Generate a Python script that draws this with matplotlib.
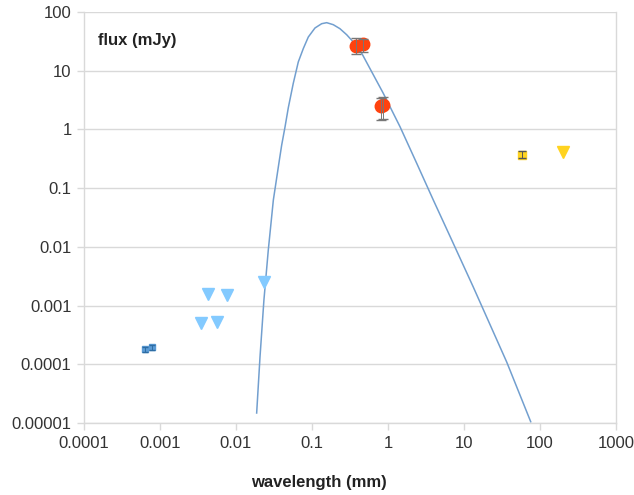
import matplotlib
matplotlib.use("Agg")
import matplotlib.pyplot as plt
from matplotlib.ticker import FixedLocator, FixedFormatter, NullLocator

plt.rcParams['font.family'] = ['Liberation Sans', 'DejaVu Sans']

# ---- data ----
# model curve
model_wl = [0.0187, 0.0207, 0.0233, 0.0266, 0.0310, 0.0372, 0.0399, 0.0442,
            0.0488, 0.0567, 0.066, 0.0769, 0.0894, 0.1094, 0.134, 0.156,
            0.1905, 0.233, 0.286, 0.333, 0.428, 0.867, 1.44, 2.39, 3.94,
            6.89, 13.2, 36.5, 75.5]
model_flux = [1.48e-5, 1.34e-4, 1.24e-3, 8.83e-3, 0.0627, 0.30, 0.54, 1.11,
              2.35, 6.10, 14.1, 23.9, 37.5, 53.4, 63.2, 65.8,
              60.8, 52.0, 41.0, 33.0, 22.5, 4.12, 1.11, 0.264, 0.063,
              0.0131, 0.00209, 1.09e-4, 1.05e-5]

# optical/NIR detections (blue squares)
opt_wl = [0.000635, 0.000778]
opt_flux = [0.000179, 0.000194]
opt_err = [0.000017, 0.000017]

# upper limits (light-blue triangles)
ul_wl = [0.00345, 0.0043, 0.00554, 0.00764, 0.0232]
ul_flux = [0.00051, 0.00158, 0.00053, 0.00150, 0.00248]

# submm detections (red circles)
sub_wl = [0.38, 0.47, 0.80, 0.87]
sub_flux = [26.0, 28.0, 2.5, 2.6]
sub_err_lo = [7.0, 7.0, 1.05, 1.1]
sub_err_hi = [10.0, 7.0, 0.95, 0.9]

# radio (yellow)
radio_wl = [57.5]
radio_flux = [0.372]
radio_err = [0.05]
radio_ul_wl = [203.0]
radio_ul_flux = [0.42]

x_ticks = [1e-4, 1e-3, 1e-2, 1e-1, 1, 10, 100, 1000]
x_labels = ["0.0001", "0.001", "0.01", "0.1", "1", "10", "100", "1000"]
y_ticks = [1e-5, 1e-4, 1e-3, 1e-2, 1e-1, 1, 10, 100]
y_labels = ["0.00001", "0.0001", "0.001", "0.01", "0.1", "1", "10", "100"]

# ---- figure ----
W, H = 634, 495
fig = plt.figure(figsize=(W / 100, H / 100), dpi=100)
ax = fig.add_axes([84 / W, 1 - 423 / H, (616 - 84) / W, (423 - 12) / H])
ax.set_xscale('log')
ax.set_yscale('log')
ax.set_xlim(1e-4, 1000)
ax.set_ylim(1e-5, 100)

grid_c = '#d9d9d9'
ax.yaxis.set_major_locator(FixedLocator(y_ticks))
ax.yaxis.set_major_formatter(FixedFormatter(y_labels))
ax.xaxis.set_major_locator(FixedLocator(x_ticks))
ax.xaxis.set_major_formatter(FixedFormatter(x_labels))
ax.xaxis.set_minor_locator(NullLocator())
ax.yaxis.set_minor_locator(NullLocator())
ax.grid(axis='y', color=grid_c, linewidth=1)
ax.set_axisbelow(True)
for s in ['left', 'bottom', 'right']:
    ax.spines[s].set_color(grid_c)
    ax.spines[s].set_linewidth(1)
ax.spines['top'].set_visible(False)
ax.tick_params(axis='both', which='major', length=5, width=1, color=grid_c,
               labelsize=12, labelcolor='#333333', pad=4)

# model curve
ax.plot(model_wl, model_flux, color='#729fcf', linewidth=1.1, zorder=2,
        solid_joinstyle='round')

# blue squares
ax.plot(opt_wl, opt_flux, 's', color='#5b9bd5', markersize=5, zorder=3)
ax.errorbar(opt_wl, opt_flux, yerr=opt_err, fmt='none', ecolor='#2e6da4',
            elinewidth=0.7, capsize=2.5, zorder=4)
# triangles
ax.plot(ul_wl, ul_flux, 'v', color='#83caff', markersize=8, linestyle='none', zorder=3)
# red
ax.plot(sub_wl, sub_flux, 'o', color='#ff420e', markersize=9, zorder=3)
ax.errorbar(sub_wl, sub_flux, yerr=[sub_err_lo, sub_err_hi], fmt='none',
            ecolor='#777777', elinewidth=0.7, capsize=3.8, zorder=4)
# yellow
ax.plot(radio_wl, radio_flux, 's', color='#ffd320', markersize=6, zorder=3)
ax.errorbar(radio_wl, radio_flux, yerr=radio_err, fmt='none', ecolor='#555555',
            elinewidth=0.7, capsize=3, zorder=4)
ax.plot(radio_ul_wl, radio_ul_flux, 'v', color='#ffd320', markersize=8,
        linestyle='none', zorder=3)

fig.text(98 / W, 1 - 40 / H, 'flux (mJy)', fontsize=12, fontweight='bold',
         color='#222222', ha='left', va='center')
fig.text(319 / W, 1 - 483 / H, 'wavelength (mm)', fontsize=12, fontweight='bold',
         color='#222222', ha='center', va='center')

fig.savefig('out.png', dpi=100, facecolor='white')
